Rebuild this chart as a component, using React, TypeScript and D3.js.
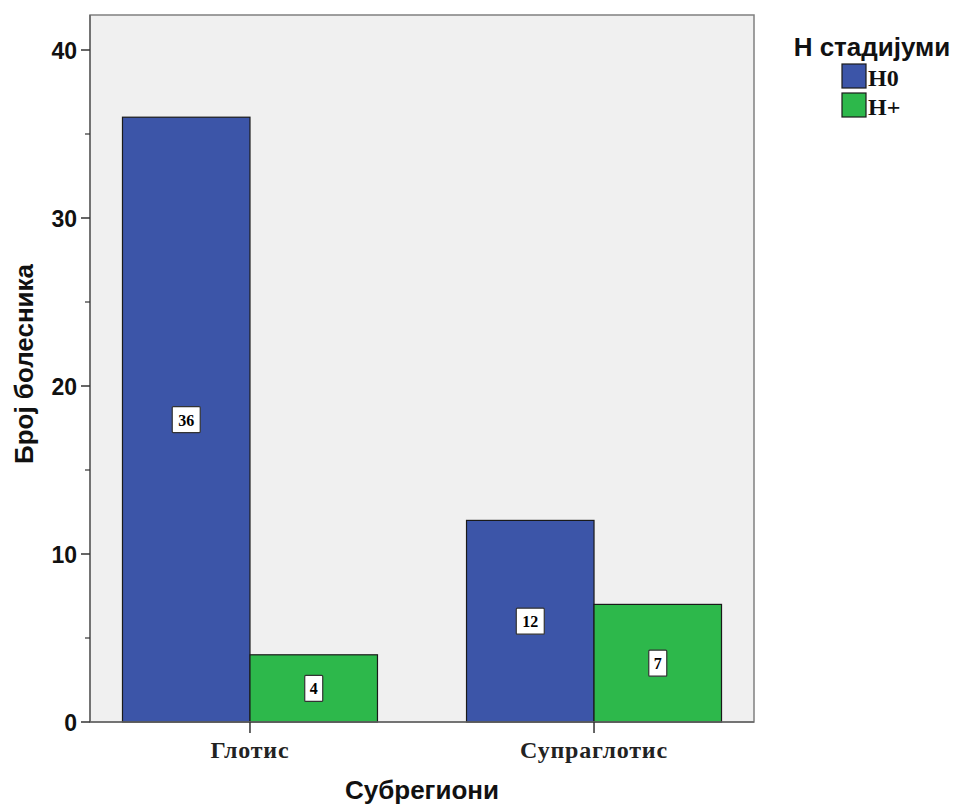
import React from "react";
import * as d3 from "d3";

const categories = ["Глотис", "Супраглотис"];
const seriesNames = ["H0", "H+"];
const h0Values = [36, 12];
const hPlusValues = [4, 7];
const yTicks = [0, 10, 20, 30, 40];
const yMinorTicks = [5, 15, 25, 35];
const colors = ["#3c55a8", "#2db84b"];

export default function App() {
  const W = 956, H = 805;
  const left = 90, right = 754, top = 15, bottom = 722;
  const x = d3.scalePoint<string>().domain(categories).range([left, right]).padding(0.465);
  const y = d3.scaleLinear().domain([0, 40]).range([bottom, 50]);
  const barW = 127.5;
  const series = [h0Values, hPlusValues];

  return (
    <svg width={W} height={H} style={{ position: "absolute", left: 0, top: 0 }}>
      <rect x={left} y={top} width={right - left} height={bottom - top} fill="#f0f0f0" stroke="#808080" strokeWidth={1.5} />
      {categories.map((c, ci) =>
        series.map((vals, si) => {
          const cx = x(c)!;
          const x0 = si === 0 ? cx - barW : cx;
          const v = vals[ci];
          const yTop = y(v);
          const midY = (yTop + y(0)) / 2;
          const label = String(v);
          const bw = label.length > 1 ? 28 : 18;
          return (
            <g key={c + si}>
              <rect x={x0} y={yTop} width={barW} height={y(0) - yTop} fill={colors[si]} stroke="#1a1a1a" strokeWidth={1.2} />
              <rect x={x0 + barW / 2 - bw / 2} y={midY - 13} width={bw} height={26} fill="#ffffff" stroke="#333" strokeWidth={1.2} rx={1} />
              <text x={x0 + barW / 2} y={midY + 6} textAnchor="middle" fontFamily="Liberation Serif, serif" fontWeight="bold" fontSize={16} fill="#000">{label}</text>
            </g>
          );
        })
      )}
      <line x1={left} x2={left} y1={top} y2={bottom} stroke="#666" strokeWidth={1.5} />
      <line x1={left} x2={right} y1={bottom} y2={bottom} stroke="#666" strokeWidth={1.5} />
      {yTicks.map(t => (
        <g key={t}>
          <line x1={left - 9} x2={left} y1={y(t)} y2={y(t)} stroke="#333" strokeWidth={1.5} />
          <text x={77} y={y(t) + 8.5} textAnchor="end" fontFamily="Liberation Sans, Arial, sans-serif" fontWeight="bold" fontSize={23} fill="#111">{t}</text>
        </g>
      ))}
      {yMinorTicks.map(t => (
        <line key={t} x1={left - 5} x2={left} y1={y(t)} y2={y(t)} stroke="#333" strokeWidth={1.2} />
      ))}
      {categories.map(c => (
        <g key={c}>
          <line x1={x(c)!} x2={x(c)!} y1={bottom} y2={bottom + 11} stroke="#333" strokeWidth={1.5} />
          <text x={x(c)!} y={758} textAnchor="middle" fontFamily="Liberation Serif, serif" fontWeight="bold" fontSize={24} letterSpacing={0.8} fill="#222">{c}</text>
        </g>
      ))}
      <text x={422} y={799} textAnchor="middle" fontFamily="Liberation Sans, Arial, sans-serif" fontWeight="bold" fontSize={26} fill="#111">Субрегиони</text>
      <text transform="translate(33,364) rotate(-90)" textAnchor="middle" fontFamily="Liberation Sans, Arial, sans-serif" fontWeight="bold" fontSize={26} fill="#111">Број болесника</text>
      <text x={872} y={56} textAnchor="middle" fontFamily="Liberation Sans, Arial, sans-serif" fontWeight="bold" fontSize={26} fill="#111">Н стадијуми</text>
      {seriesNames.map((s, i) => (
        <g key={s}>
          <rect x={842} y={64 + i * 29} width={24} height={24} fill={colors[i]} stroke="#1a1a1a" strokeWidth={1.2} />
          <text x={868} y={86 + i * 29} fontFamily="Liberation Serif, serif" fontWeight="bold" fontSize={24} fill="#111">{s}</text>
        </g>
      ))}
    </svg>
  );
}
